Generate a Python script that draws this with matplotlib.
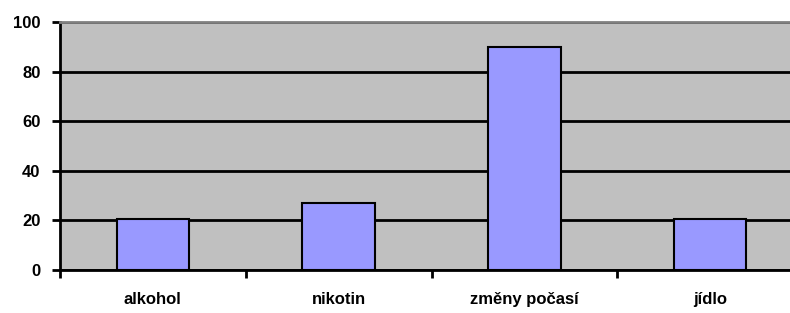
import matplotlib.pyplot as plt
from matplotlib.ticker import FixedLocator

categories = ['alkohol', 'nikotin', 'změny počasí', 'jídlo']
values = [20.5, 27.2, 89.8, 20.5]

plt.rcParams['font.family'] = ['Liberation Sans', 'DejaVu Sans']

fig = plt.figure(figsize=(7.9, 3.13), dpi=100)
ax = fig.add_axes([60/790, 1 - 270/313, 743/790, 248/313])
ax.set_facecolor('#C0C0C0')

x = range(len(categories))
ax.bar(x, values, width=0.39, color='#9999FF', edgecolor='black', linewidth=1.5, zorder=3)

ax.set_xlim(-0.5, len(categories) - 0.5)
ax.set_ylim(0, 100)
ax.set_yticks([0, 20, 40, 60, 80, 100])
ax.set_yticklabels(['0', '20', '40', '60', '80', '100'], fontsize=12, fontweight='bold')
ax.yaxis.grid(True, color='black', linewidth=2, zorder=1)
ax.set_xticks(list(x))
ax.set_xticklabels(categories, fontsize=12, fontweight='bold')
ax.tick_params(axis='x', which='major', length=0, pad=16)
ax.xaxis.set_minor_locator(FixedLocator([i - 0.5 for i in range(len(categories) + 1)]))
ax.tick_params(axis='x', which='minor', length=6, width=2, direction='out')
ax.tick_params(axis='y', length=6, width=2, direction='out', pad=8)

ax.spines['left'].set_linewidth(2)
ax.spines['bottom'].set_linewidth(2)
ax.spines['top'].set_color('#808080')
ax.spines['top'].set_linewidth(2)
ax.spines['right'].set_visible(False)

fig.savefig('out.png', dpi=100)
